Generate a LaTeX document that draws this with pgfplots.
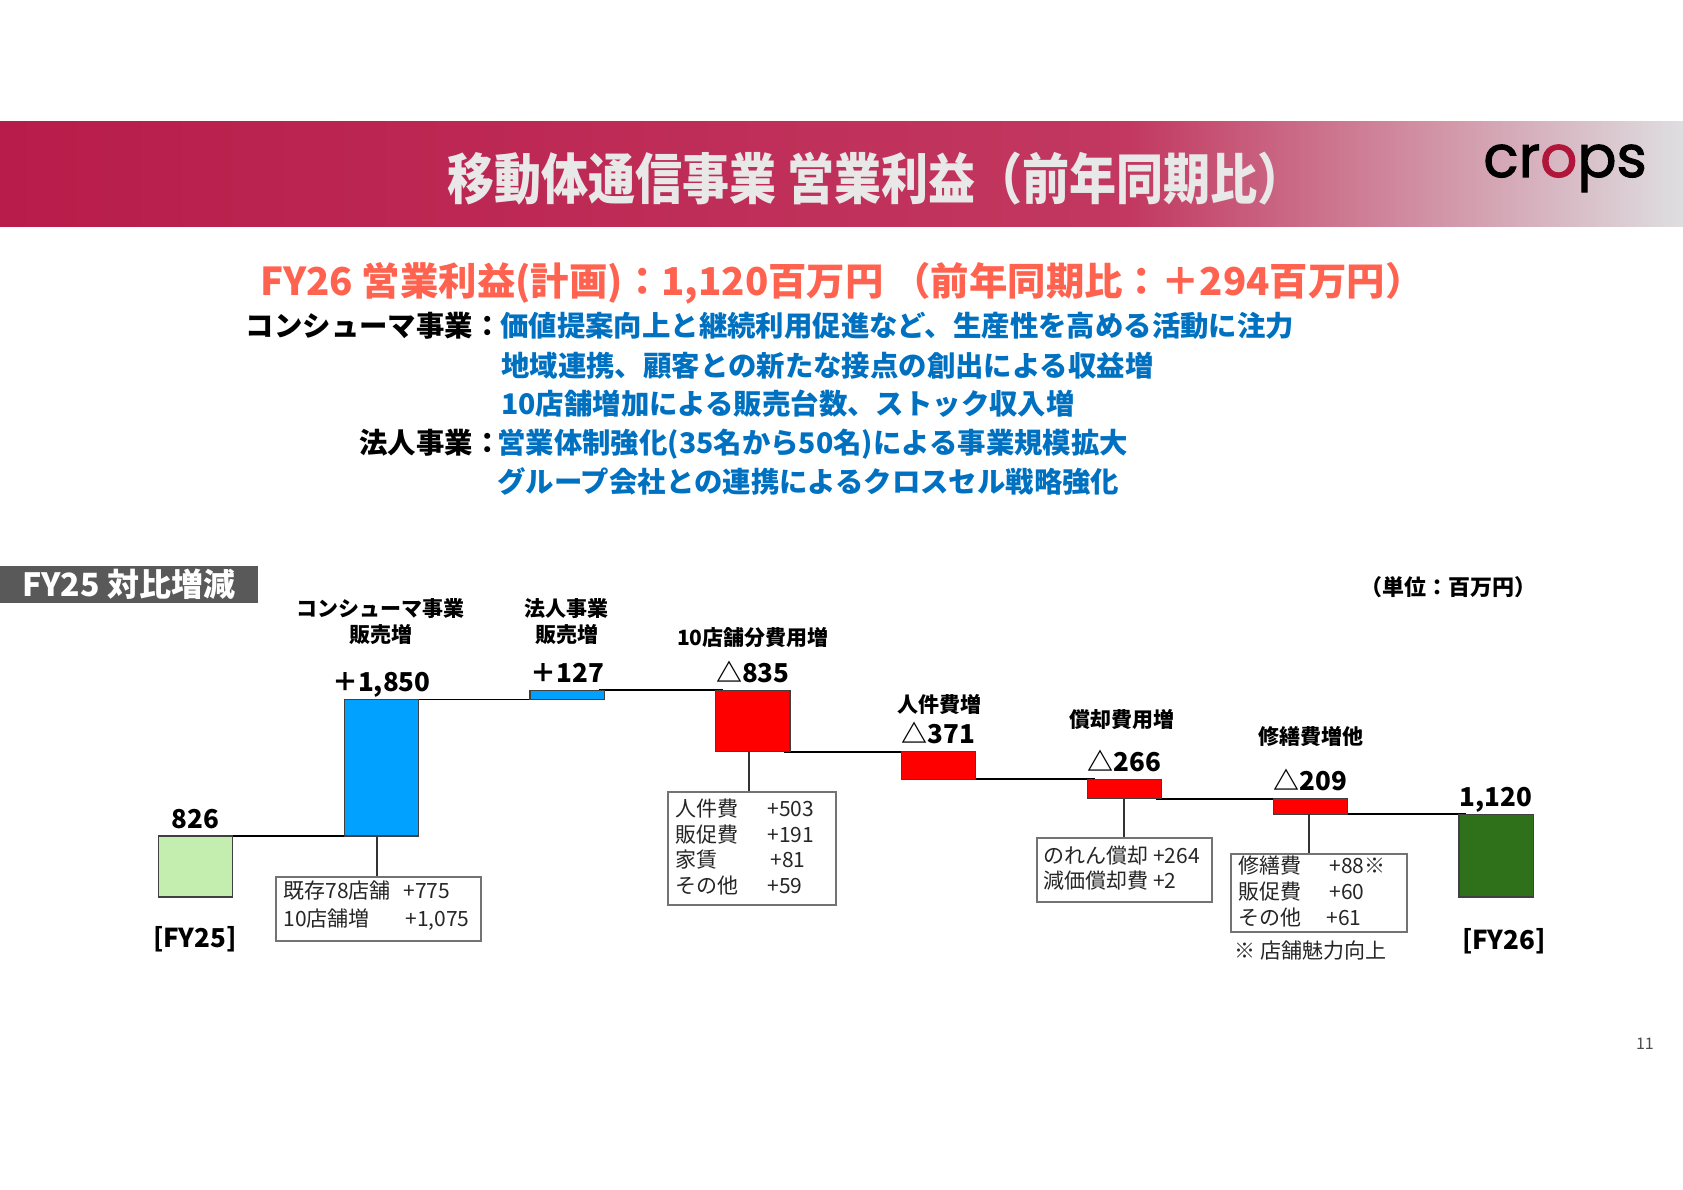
\documentclass[border=0pt]{standalone}
\usepackage{pgfplots}
\pgfplotsset{compat=1.18}
\usepackage{fontspec}
\setmainfont{Noto Sans CJK JP}
\newfontfamily\titlefont[FakeStretch=0.855]{Noto Sans CJK JP}
\newfontfamily\logofont[FakeBold=1.8]{Poppins}
\definecolor{crim}{RGB}{184,28,74}
\definecolor{crim2}{RGB}{194,56,96}
\definecolor{bgend}{RGB}{222,222,224}
\definecolor{ttl}{RGB}{232,232,232}
\definecolor{coral}{RGB}{255,99,79}
\definecolor{txtblue}{RGB}{0,112,192}
\definecolor{boxgray}{RGB}{89,89,89}
\definecolor{lgreen}{RGB}{196,238,176}
\definecolor{barblue}{RGB}{0,161,255}
\definecolor{barred}{RGB}{255,0,0}
\definecolor{dgreen}{RGB}{47,112,26}
\definecolor{logored}{RGB}{176,22,58}
\newcommand{\fs}[1]{\fontsize{#1bp}{#1bp}\selectfont}
\begin{document}
\begin{tikzpicture}
\path[use as bounding box] (0,0) rectangle (841.5bp,-595bp);
\begin{scope}[x=0.5bp,y=-0.5bp]
% banner
\shade[left color=crim, right color=crim2] (0,122) rectangle (1130,227);
\shade[left color=crim2, right color=bgend] (1129,122) rectangle (1683,227);
\node[anchor=base, inner sep=0, text=ttl] at (876,200) {\titlefont\bfseries\fs{27.5}移動体通信事業 営業利益（前年同期比）};
\node[anchor=base west, inner sep=0] at (1483,177) {\logofont\fs{29}\color{black}cr\textcolor{logored}{o}ps};
% heading
\node[anchor=base, inner sep=0, text=coral] at (842,295.5) {\bfseries\fs{19.2}FY26 営業利益(計画)：1,120百万円 （前年同期比：＋294百万円）};
% lines
\node[anchor=base east, inner sep=0] at (502,336.6) {\bfseries\fs{14.2}コンシューマ事業：};
\node[anchor=base west, inner sep=0, text=txtblue] at (500,336.6) {\bfseries\fs{14.2}価値提案向上と継続利用促進など、生産性を高める活動に注力};
\node[anchor=base west, inner sep=0, text=txtblue] at (501,376.3) {\bfseries\fs{14.2}地域連携、顧客との新たな接点の創出による収益増};
\node[anchor=base west, inner sep=0, text=txtblue] at (501,415) {\bfseries\fs{14.2}10店舗増加による販売台数、ストック収入増};
\node[anchor=base east, inner sep=0] at (502,453.6) {\bfseries\fs{14.2}法人事業：};
\node[anchor=base west, inner sep=0, text=txtblue] at (497,453.6) {\bfseries\fs{14.2}営業体制強化(35名から50名)による事業規模拡大};
\node[anchor=base west, inner sep=0, text=txtblue] at (497,492.2) {\bfseries\fs{14.2}グループ会社との連携によるクロスセル戦略強化};
% FY25 box
\fill[boxgray] (0,566) rectangle (258,603);
\node[anchor=base, inner sep=0, text=white] at (129,596.7) {\bfseries\fs{16}FY25 対比増減};
\node[anchor=base, inner sep=0] at (1449,595.4) {\bfseries\fs{11}（単位：百万円）};
\end{scope}

\begin{axis}[
  at={(51.3bp,-448.5bp)}, anchor=south west,
  scale only axis, width=743.2bp, height=110.7bp,
  xmin=-0.5, xmax=7.5, ymin=0, ymax=3000,
  hide axis, clip=false,
  ybar stacked, bar width=0.4,
  every axis plot/.append style={draw=black!75, line width=0.6bp},
]
\addplot[draw=none, fill=none] coordinates {(0,0) (1,826) (2,2676) (3,1968) (4,1597) (5,1331) (6,1122) (7,0)};
\addplot[fill=lgreen] coordinates {(0,826) (1,0) (2,0) (3,0) (4,0) (5,0) (6,0) (7,0)};
\addplot[fill=barblue] coordinates {(0,0) (1,1850) (2,127) (3,0) (4,0) (5,0) (6,0) (7,0)};
\addplot[fill=barred] coordinates {(0,0) (1,0) (2,0) (3,835) (4,371) (5,266) (6,209) (7,0)};
\addplot[fill=dgreen] coordinates {(0,0) (1,0) (2,0) (3,0) (4,0) (5,0) (6,0) (7,1120)};
% connectors
\draw[black, line width=0.8bp] (axis cs:0.17,826) -- (axis cs:0.84,826);
\draw[black, line width=0.8bp] (axis cs:1.17,2676) -- (axis cs:1.84,2676);
\draw[black, line width=0.8bp] (axis cs:2.17,2803) -- (axis cs:2.84,2803);
\draw[black, line width=0.8bp] (axis cs:3.17,1968) -- (axis cs:3.84,1968);
\draw[black, line width=0.8bp] (axis cs:4.17,1597) -- (axis cs:4.84,1597);
\draw[black, line width=0.8bp] (axis cs:5.17,1331) -- (axis cs:5.84,1331);
\draw[black, line width=0.8bp] (axis cs:6.17,1122) -- (axis cs:6.84,1122);
% value labels
\tikzset{vl/.style={anchor=base, inner sep=0, yshift=4bp, font=\bfseries\fs{13}}}
\node[vl] at (axis cs:0,826) {826};
\node[vl] at (axis cs:1,2676) {＋1,850};
\node[vl] at (axis cs:2,2803) {＋127};
\node[vl] at (axis cs:3,2803) {△835};
\node[vl] at (axis cs:4,1968) {△371};
\node[vl] at (axis cs:5,1597) {△266};
\node[vl] at (axis cs:6,1331) {△209};
\node[vl] at (axis cs:7,1120) {1,120};
\end{axis}

\begin{scope}[x=0.5bp,y=-0.5bp]
\tikzset{cl/.style={anchor=base, inner sep=0, font=\bfseries\fs{10.5}}}
\node[cl] at (381,617) {コンシューマ事業};
\node[cl] at (381,642.4) {販売増};
\node[cl] at (567,617) {法人事業};
\node[cl] at (567,642.4) {販売増};
\node[cl] at (753,646) {10店舗分費用増};
\node[cl] at (940,712.4) {人件費増};
\node[cl] at (1122,727.4) {償却費用増};
\node[cl] at (1311,744.4) {修繕費増他};
\node[anchor=base, inner sep=0, font=\bfseries\fs{13}] at (195,947.5) {[FY25]};
\node[anchor=base, inner sep=0, font=\bfseries\fs{13}] at (1504,949.5) {[FY26]};
% annotation boxes
\tikzset{bt/.style={anchor=base west, inner sep=0, font=\fs{10.5}, text=black!85}}
\draw[black!80, line width=0.8bp] (377,837) -- (377,877);
\draw[black!55, line width=0.6bp] (276,877) rectangle (481,941);
\node[bt] at (283,899) {既存78店舗};
\node[bt] at (403,899) {+775};
\node[bt] at (283,927) {10店舗増};
\node[bt] at (405,927) {+1,075};
\draw[black!80, line width=0.8bp] (749,752) -- (749,792);
\draw[black!55, line width=0.6bp] (668,792) rectangle (836,905);
\node[bt] at (675,817) {人件費};
\node[bt] at (767,817) {+503};
\node[bt] at (675,843) {販促費};
\node[bt] at (767,843) {+191};
\node[bt] at (675,868) {家賃};
\node[bt] at (770,868) {+81};
\node[bt] at (675,893.5) {その他};
\node[bt] at (767,893.5) {+59};
\draw[black!80, line width=0.8bp] (1124,799) -- (1124,838);
\draw[black!55, line width=0.6bp] (1037,838) rectangle (1212,902);
\node[bt] at (1043,863.4) {のれん償却 +264};
\node[bt] at (1043,889) {減価償却費 +2};
\draw[black!80, line width=0.8bp] (1309,814) -- (1309,854);
\draw[black!55, line width=0.6bp] (1231,854) rectangle (1407,932);
\node[bt] at (1238,874) {修繕費};
\node[bt] at (1329,874) {+88※};
\node[bt] at (1238,900) {販促費};
\node[bt] at (1329,900) {+60};
\node[bt] at (1238,925.7) {その他};
\node[bt] at (1326,925.7) {+61};
\node[bt] at (1234,959) {※ 店舗魅力向上};
\node[anchor=base, inner sep=0, font=\fs{8}, text=black!70] at (1645,1049.5) {11};
\end{scope}
\end{tikzpicture}
\end{document}
